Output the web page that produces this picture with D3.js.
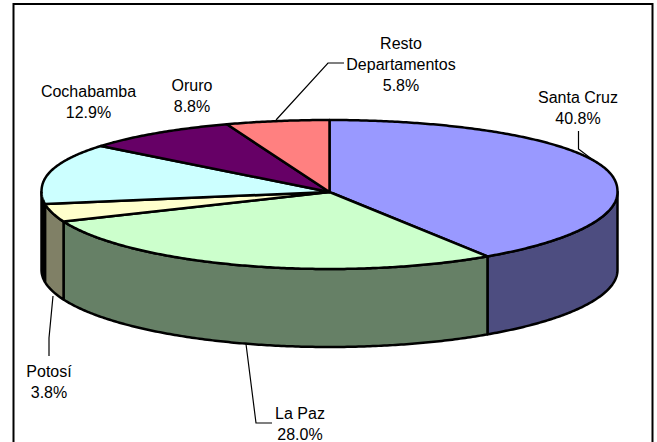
<!DOCTYPE html>
<meta charset="utf-8">
<script src="https://d3js.org/d3.v7.min.js"></script>
<style>
  body {margin: 0; background: #fff;}
  svg {display: block;}
  text {font-family: "Liberation Sans", Arial, sans-serif; font-size: 16px; fill: #000;}
</style>
<div id="my_dataviz"></div>
<script>

var departments = ["Santa Cruz", "La Paz", "Potosí", "Cochabamba", "Oruro", "Resto Departamentos"]
var shares = [40.8, 28.0, 3.8, 12.9, 8.8, 5.8]
var topColors = ["#9999ff", "#ccffcc", "#ffffcc", "#ccffff", "#660066", "#ff8080"]
var sideColors = ["#4d4d80", "#668066", "#808066", "#000000", "#330033", "#804040"]

// label lines of text, in the same order as departments
var labelLines = [["Santa Cruz", "40.8%"], ["La Paz", "28.0%"], ["Potosí", "3.8%"],
  ["Cochabamba", "12.9%"], ["Oruro", "8.8%"], ["Resto", "Departamentos", "5.8%"]]
var labelAnchors = [[578, 103], [300, 419], [49, 377], [88.5, 97], [192, 91], [401, 49]]

// leader lines, from the label to the pie edge
var leaders = [
  [[578.5, 131], [578.5, 149], [597, 163]],
  [[272, 423], [256, 423], [246, 344]],
  [[49, 356], [49, 338], [53, 296]],
  [[344, 63], [328, 63], [276, 120]]
]

var width = 657, height = 442
var cx = 329.5, cy = 192, rx = 288, ryTop = 72, ryBottom = 77, depth = 78

var svg = d3.select("#my_dataviz")
  .append("svg")
    .attr("width", width)
    .attr("height", height)

// chart frame, runs past the bottom of the window
svg.append("rect")
  .attr("x", 13.5).attr("y", 4)
  .attr("width", 639).attr("height", 442)
  .attr("fill", "#fff")
  .attr("stroke", "#000")
  .attr("stroke-width", 2)

var pie = d3.pie().sort(null).value(function(d){ return d })
var slices = pie(shares)

// point on the tilted rim, angle is clockwise from the top
// the back half is a bit squarer than a true ellipse, like the original
function rim(a, drop) {
  var c = Math.cos(a)
  var dy = c > 0 ? ryTop * Math.pow(c, 0.9) : ryBottom * c
  return [cx + rx * Math.sin(a), cy - dy + (drop || 0)]
}

function rimPoints(a0, a1, drop) {
  var n = Math.max(2, Math.ceil(Math.abs(a1 - a0) / 0.01))
  return d3.range(n + 1).map(function(i){ return rim(a0 + (a1 - a0) * i / n, drop) })
}

var line = d3.line()

// side walls, only the part of the rim facing us (90 to 270 degrees)
var sideFrom = Math.PI / 2, sideTo = Math.PI * 1.5
slices.forEach(function(d, i) {
  var a0 = Math.max(d.startAngle, sideFrom), a1 = Math.min(d.endAngle, sideTo)
  if (a1 <= a0) return
  var pts = rimPoints(a0, a1, 0).concat(rimPoints(a1, a0, depth))
  svg.append("path")
    .attr("d", line(pts) + "Z")
    .attr("fill", sideColors[i])
    .attr("stroke", "#000")
    .attr("stroke-width", 2.5)
    .attr("stroke-linejoin", "round")
})

// top faces
svg.selectAll(".top")
  .data(slices)
  .enter()
  .append("path")
    .attr("class", "top")
    .attr("d", function(d){ return line([[cx, cy]].concat(rimPoints(d.startAngle, d.endAngle, 0))) + "Z" })
    .attr("fill", function(d, i){ return topColors[i] })
    .attr("stroke", "#000")
    .attr("stroke-width", 2.5)
    .attr("stroke-linejoin", "round")

// leader lines
svg.selectAll(".leader")
  .data(leaders)
  .enter()
  .append("path")
    .attr("class", "leader")
    .attr("d", function(d){ return line(d) })
    .attr("fill", "none")
    .attr("stroke", "#000")
    .attr("stroke-width", 1.2)

// labels
labelLines.forEach(function(lines, i) {
  var t = svg.append("text")
    .attr("text-anchor", "middle")
  lines.forEach(function(s, j) {
    t.append("tspan")
      .attr("x", labelAnchors[i][0])
      .attr("y", labelAnchors[i][1] + j * 21)
      .text(s)
  })
})

</script>
